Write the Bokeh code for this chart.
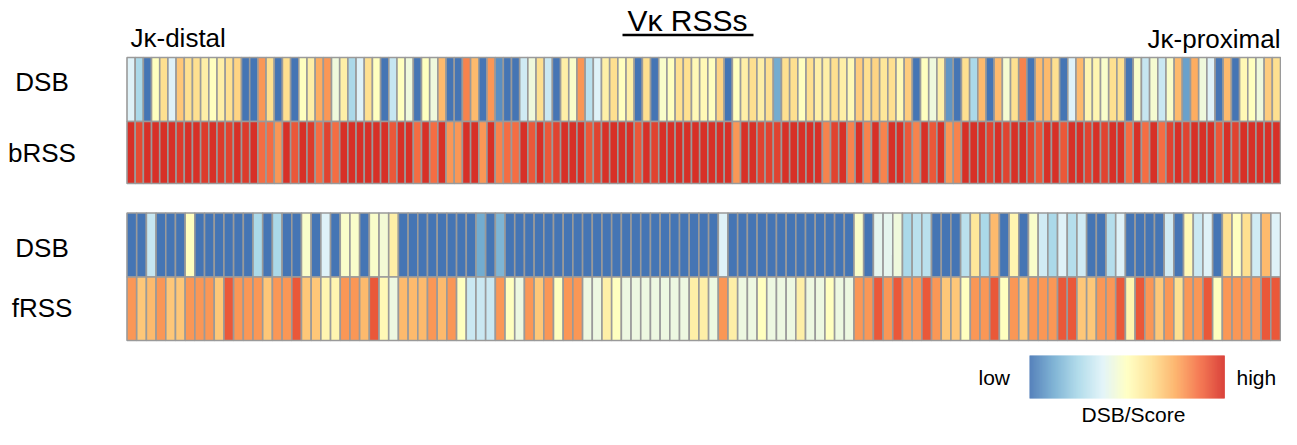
import numpy as np
from bokeh.plotting import figure
from bokeh.models import Range1d, LinearColorMapper, ColumnDataSource
from bokeh.core.properties import value
from bokeh.embed import file_html
from bokeh.resources import INLINE

# ---------------- data (colour score levels 0 = low ... 10 = high) ----------------
top_dsb = [3, 2, 0, 4, 5, 3, 6, 5, 5, 4.5, 4, 4.5, 5, 5.5, 0, 0, 7.5, 5, 0, 5,
           0, 4, 4.5, 7, 7.5, 3.5, 4.5, 2, 3, 5, 4, 0, 2.5, 4, 3.5, 0, 4, 3.5, 6.5, 0,
           0, 8, 6.5, 0, 7.5, 0.5, 0, 0, 2.7, 3.5, 5, 2.6, 0, 4.5, 3.8, 7.5, 2.3, 3, 4.5, 5,
           4, 4.5, 0, 5, 0, 3.8, 4, 5, 5, 4.2, 4.2, 4, 5.5, 0, 4, 4.5, 5, 4.5, 5, 1,
           5, 5, 4, 5, 4.5, 4.5, 5, 4.5, 4.2, 5.8, 5, 5.5, 4.8, 5, 4.2, 5.8, 0, 4, 3.5, 4.5,
           0.6, 0, 5, 2, 6.5, 0, 6.5, 3.7, 5, 8, 0, 6.5, 6.5, 5, 0, 3, 6.5, 4.3, 4.3, 3.8,
           5, 5, 0, 3.8, 2.5, 3.7, 2.6, 3.8, 6.5, 0.8, 7, 3.5, 3, 0, 6.5, 0, 4.2, 4, 3.5, 5.8,
           5]
brss = [10, 9.3, 10, 10, 10, 10, 9.7, 10, 10, 9.7, 10, 9.7, 9.5, 10, 9.7, 10, 8.5, 8.5, 7.5, 10,
        9, 10, 9.7, 8.5, 9.5, 8.5, 10, 10, 10, 10, 10, 10, 9, 10, 10, 8.5, 10, 8.5, 10, 7.5,
        7.5, 10, 10, 7.5, 10, 8, 8.5, 8.5, 10, 9, 10, 9, 9.5, 10, 10, 10, 9, 9.5, 10, 10,
        10, 10, 9, 10, 9.5, 10, 10, 10, 10, 10, 10, 10, 10, 10, 7.5, 10, 10, 9.5, 9.5, 9.5,
        10, 10, 10, 10, 10, 8, 9.5, 10, 8, 10, 8, 10, 8, 10, 10, 9, 8, 10, 9, 10,
        7.5, 8, 10, 10, 10, 9.5, 10, 9.5, 10, 10, 9.5, 9, 10, 10, 9, 10, 10, 9.5, 10, 9.5,
        10, 10, 8.5, 10, 8.5, 10, 8.5, 9.5, 10, 9.5, 10, 10, 10, 9, 10, 9.5, 10, 10, 10, 10,
        10]
bot_dsb = [0, 0, 2.5, 0, 0, 0, 4, 0, 0, 0, 0, 0, 0, 2, 0, 2, 0, 0, 3.8, 0,
           3, 0, 3.8, 3.8, 0, 3.8, 3.6, 4.5, 0, 0, 0, 0, 0, 0, 0, 0, 1, 0, 1.2, 0,
           0, 0, 0, 0, 0, 0, 0, 0, 0, 0, 0, 0, 0, 0, 0, 0, 0, 0, 0, 0,
           0, 3, 0, 0, 0, 0, 0, 0, 0, 0, 0, 0, 0, 0, 0, 3.8, 0, 3.2, 3.2, 3.5,
           2, 2.3, 2.3, 0, 0, 0, 2.3, 4.8, 2, 6.5, 0, 4.3, 0, 3.8, 2.7, 2, 3, 2.2, 2.7, 0,
           0, 2.2, 3, 0, 0, 0, 0, 2.7, 0, 4.2, 2.6, 3, 0, 5, 4, 5, 2.7, 6.5, 3]
frss = [7.5, 6, 6.5, 7.5, 6, 6, 7.5, 7.5, 7.5, 6, 9, 7.5, 7.5, 7.5, 6, 7.5, 7.5, 9, 6, 6,
        4.3, 4.3, 7.5, 7.5, 6.5, 9, 4.2, 3.4, 6.5, 6.5, 6.5, 7.5, 6.5, 7.5, 4, 2.6, 2.6, 2.6, 7.5, 4,
        3.4, 7.5, 6, 7.5, 4, 7.5, 7.5, 3.4, 3.4, 4.5, 4, 3.4, 3.4, 3.4, 3.4, 3.4, 3.4, 3.4, 4.5, 4.5,
        3.4, 7.5, 4.5, 3.4, 3.4, 4, 3.4, 3.4, 3.4, 4.5, 3.4, 3.4, 4, 3.4, 3.4, 7.5, 7.5, 9, 7.5, 9,
        7.5, 7.5, 9, 7.5, 6, 6, 4, 7.5, 7.5, 9, 4, 7.5, 6, 7.5, 7.5, 7.5, 9, 9, 6, 6,
        7.5, 7.5, 9, 4.3, 9, 7.5, 6, 7.5, 5, 7.5, 7.5, 9, 4, 7.5, 7.5, 7.5, 7.5, 9, 9]

row_labels = ["DSB", "bRSS", "DSB", "fRSS"]
title = "V\u03ba RSSs"
end_labels = ["J\u03ba-distal", "J\u03ba-proximal"]
legend_labels = ["low", "high", "DSB/Score"]

# ---------------- style / layout ----------------
W, H = 1281, 429
FONT = value("Liberation Sans")
GRID = "#9a9a9a"


def lerp_palette(stops, n=256):
    pos = np.array([s[0] for s in stops], dtype=float)
    cols = np.array([[int(s[1][i:i + 2], 16) for i in (1, 3, 5)] for s in stops], dtype=float)
    t = np.linspace(pos[0], pos[-1], n)
    out = []
    for tt in t:
        rgb = [np.interp(tt, pos, cols[:, k]) for k in range(3)]
        out.append("#%02x%02x%02x" % tuple(int(round(c)) for c in rgb))
    return out


rdylbu = ["#4575b4", "#74add1", "#abd9e9", "#e0f3f8", "#ffffbf",
          "#fee090", "#fdae61", "#f46d43", "#d73027"]
cell_pal = lerp_palette([(0, rdylbu[0]), (1, rdylbu[1]), (2, rdylbu[2]), (3, rdylbu[3]),
                         (4, rdylbu[4]), (5, rdylbu[5]), (7, rdylbu[6]), (8.5, rdylbu[7]),
                         (10, rdylbu[8])])
bar_pal = lerp_palette([(i / 8, c) for i, c in enumerate(rdylbu)])
cell_mapper = LinearColorMapper(palette=cell_pal, low=0, high=10)
bar_mapper = LinearColorMapper(palette=bar_pal, low=0, high=1)

p = figure(width=W, height=H, x_range=Range1d(0, W), y_range=Range1d(H, 0),
           output_backend="svg", toolbar_location=None, min_border=0)
p.xaxis.visible = False
p.yaxis.visible = False
p.xgrid.visible = False
p.ygrid.visible = False
p.outline_line_color = None
p.background_fill_color = "white"
p.border_fill_color = "white"

LEFT, RIGHT = 126.5, 1280
rows = [(top_dsb, 57, 121),
        (brss, 121, 183),
        (bot_dsb, 212.5, 276.5),
        (frss, 276.5, 340)]

for vals, y0, y1 in rows:
    n = len(vals)
    cw = (RIGHT - LEFT) / n
    idx = np.arange(n)
    src = ColumnDataSource(dict(x=LEFT + (idx + 0.5) * cw, y=np.full(n, (y0 + y1) / 2),
                                w=np.full(n, cw), v=vals))
    p.rect(x="x", y="y", width="w", height=y1 - y0, source=src,
           fill_color={"field": "v", "transform": cell_mapper},
           line_color=GRID, line_width=1.6)

# row labels (vertically centred on the cap height)
lab_y = [81, 152.5, 247, 307.5]
p.text(x=[41.5] * 4, y=lab_y, text=row_labels, text_font=FONT,
       text_font_size="26px", text_align="center", text_baseline="middle",
       text_color="black")

# title with underline
p.text(x=[687], y=[20], text=[title], text_font=FONT,
       text_font_size="30px", text_align="center", text_baseline="middle",
       text_color="black")
p.segment(x0=[622], y0=[34.5], x1=[753], y1=[34.5],
          line_color="black", line_width=2.5)

# end labels
p.text(x=[130], y=[37.5], text=[end_labels[0]], text_font=FONT,
       text_font_size="26px", text_align="left", text_baseline="middle",
       text_color="black")
p.text(x=[1280], y=[38], text=[end_labels[1]], text_font=FONT,
       text_font_size="26px", text_align="right", text_baseline="middle",
       text_color="black")

# colour bar
CB_L, CB_R, CB_T, CB_B = 1029, 1224, 355, 398
NB = 195
edges = np.linspace(CB_L, CB_R, NB + 1)
grad = np.linspace(0, 1, NB)
cb_src = ColumnDataSource(dict(l=edges[:-1], r=edges[1:] + 0.3, g=grad))
p.quad(left="l", right="r", top=CB_T, bottom=CB_B, source=cb_src,
       fill_color={"field": "g", "transform": bar_mapper}, line_color=None)

p.text(x=[978], y=[377], text=[legend_labels[0]], text_font=FONT,
       text_font_size="21px", text_align="left", text_baseline="middle", text_color="black")
p.text(x=[1236], y=[377], text=[legend_labels[1]], text_font=FONT,
       text_font_size="21px", text_align="left", text_baseline="middle", text_color="black")
p.text(x=[1133], y=[414], text=[legend_labels[2]], text_font=FONT,
       text_font_size="21px", text_align="center", text_baseline="middle", text_color="black")

open("out.html", "w").write(file_html(p, INLINE))
